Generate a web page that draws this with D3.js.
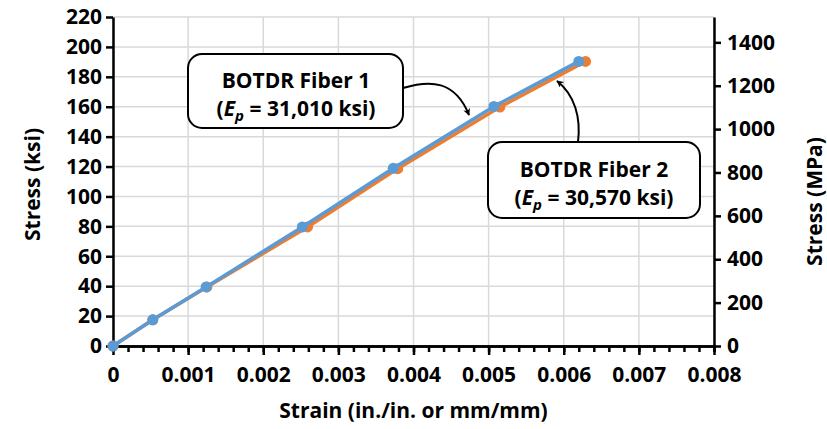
<!DOCTYPE html>
<html>
<head>
<meta charset="utf-8">
<script src="https://cdn.jsdelivr.net/npm/d3@7"></script>
<style>
body{margin:0;background:#fff;}
text{font-family:"Open Sans",sans-serif;font-weight:700;fill:#000;}
</style>
</head>
<body>
<div class="visHolder"></div>
<script>
const w = 827;
const h = 429;
const m = {top:17, right:113, bottom:83, left:113};

// data (strain, ksi)
const strain1 = [0, 0.00053, 0.00124, 0.00252, 0.00373, 0.00507, 0.0062];
const stress1 = [0, 17.5, 39.5, 79.6, 118.8, 160.2, 190.3];
const strain2 = [0, 0.00053, 0.00125, 0.00259, 0.00379, 0.00515, 0.00629];
const stress2 = [0, 17.5, 39.5, 79.6, 118.6, 159.8, 190.3];
const xTicks = [0,0.001,0.002,0.003,0.004,0.005,0.006,0.007,0.008];
const yTicks = [0,20,40,60,80,100,120,140,160,180,200,220];
const mpaTicks = [0,200,400,600,800,1000,1200,1400];
const ksiToMpa = 6.894757;

const svg = d3.select('.visHolder').append('svg').attr('width',w).attr('height',h)

const pw = w - m.left - m.right;
const ph = h - m.top - m.bottom;
const xScale = d3.scaleLinear().domain([0,0.008]).range([m.left, m.left + pw])
const yScale = d3.scaleLinear().domain([0,220]).range([m.top + ph, m.top])
const y2Scale = d3.scaleLinear().domain([0,220*ksiToMpa]).range([m.top + ph, m.top])

//grid
svg.append('g').selectAll('line').data(yTicks).enter().append('line')
.attr('x1',m.left).attr('x2',m.left+pw)
.attr('y1',d=>yScale(d)).attr('y2',d=>yScale(d))
.attr('stroke','#d9d9d9').attr('stroke-width',1.5)
svg.append('g').selectAll('line').data(xTicks).enter().append('line')
.attr('x1',d=>xScale(d)).attr('x2',d=>xScale(d))
.attr('y1',m.top).attr('y2',m.top+ph)
.attr('stroke','#d9d9d9').attr('stroke-width',1.5)

//axes
const fmt = d => d === 0 ? '0' : d3.format('.3f')(d);
const xAxisMinor = d3.axisBottom(xScale).ticks(40).tickSize(6).tickFormat('')
const xAxis = d3.axisBottom(xScale).tickValues(xTicks).tickSize(9).tickSizeOuter(0).tickFormat(fmt).tickPadding(12)
const yAxis = d3.axisLeft(yScale).tickValues(yTicks).tickSize(7).tickSizeOuter(0).tickPadding(4)
const y2Axis = d3.axisRight(y2Scale).tickValues(mpaTicks).tickSize(7).tickSizeOuter(0).tickPadding(6).tickFormat(d3.format('d'))

function styleAxis(g){
  g.selectAll('path').attr('stroke','#000').attr('stroke-width',2.5)
  g.selectAll('line').attr('stroke','#000').attr('stroke-width',2.5)
  g.selectAll('text').style('font-size','21px').attr('font-family',null)
}
svg.append('g').attr('transform','translate(0,'+(m.top+ph)+')').call(xAxisMinor).call(styleAxis)
svg.append('g').attr('transform','translate(0,'+(m.top+ph)+')').call(xAxis).call(styleAxis)
svg.append('g').attr('transform','translate('+m.left+',0)').call(yAxis).call(styleAxis)
svg.append('g').attr('transform','translate('+(m.left+pw)+',0)').call(y2Axis).call(styleAxis)

//titles
svg.append('text').attr('x',m.left+pw/2).attr('y',418).attr('text-anchor','middle').style('font-size','21px').text('Strain (in./in. or mm/mm)')
svg.append('text').attr('transform','translate(40,'+(m.top+ph/2+3)+') rotate(-90)').attr('text-anchor','middle').style('font-size','21px').text('Stress (ksi)')
svg.append('text').attr('transform','translate(822,'+(m.top+ph/2+20)+') rotate(-90)').attr('text-anchor','middle').style('font-size','21px').text('Stress (MPa)')

//series
const line = d3.line().x(d=>xScale(d[0])).y(d=>yScale(d[1]))
const s2 = strain2.map((d,i)=>[d,stress2[i]])
const s1 = strain1.map((d,i)=>[d,stress1[i]])
;[[s2,'#ED7D31'],[s1,'#5B9BD5']].forEach(function(s){
  svg.append('path').datum(s[0]).attr('d',line).attr('fill','none').attr('stroke',s[1]).attr('stroke-width',3.5)
  svg.append('g').selectAll('circle').data(s[0]).enter().append('circle')
  .attr('cx',d=>xScale(d[0])).attr('cy',d=>yScale(d[1])).attr('r',5.5).attr('fill',s[1])
})

//annotations
svg.append('defs').append('marker').attr('id','arr').attr('viewBox','0 0 10 10').attr('refX',9).attr('refY',5)
.attr('markerWidth',7).attr('markerHeight',7).attr('orient','auto-start-reverse').attr('markerUnits','userSpaceOnUse')
.append('path').attr('d','M0,0 L10,5 L0,10 L3,5 Z').attr('fill','#000')
svg.append('rect').attr('x',188).attr('y',54).attr('width',215).attr('height',74).attr('rx',14)
.attr('fill','#fff').attr('stroke','#000').attr('stroke-width',2)
svg.append('rect').attr('x',488).attr('y',142).attr('width',212).attr('height',76).attr('rx',14)
.attr('fill','#fff').attr('stroke','#000').attr('stroke-width',2)
svg.append('path').attr('d','M403,88 C430,80 455,80 469,115').attr('fill','none').attr('stroke','#000').attr('stroke-width',2).attr('marker-end','url(#arr)')
svg.append('path').attr('d','M578,142 C581,118 575,95 557,81').attr('fill','none').attr('stroke','#000').attr('stroke-width',2).attr('marker-end','url(#arr)')

function label(cx, y, line1, val){
  svg.append('text').attr('x',cx).attr('y',y).attr('text-anchor','middle').style('font-size','21px').text(line1)
  const t = svg.append('text').attr('x',cx).attr('y',y+28).attr('text-anchor','middle').style('font-size','21px')
  t.append('tspan').text('(')
  t.append('tspan').style('font-style','italic').text('E')
  t.append('tspan').style('font-style','italic').style('font-size','15px').attr('dy',5).text('p')
  t.append('tspan').attr('dy',-5).text(' = ' + val + ' ksi)')
}
label(296, 88, 'BOTDR Fiber 1', '31,010')
label(594, 177, 'BOTDR Fiber 2', '30,570')
</script>
</body>
</html>
